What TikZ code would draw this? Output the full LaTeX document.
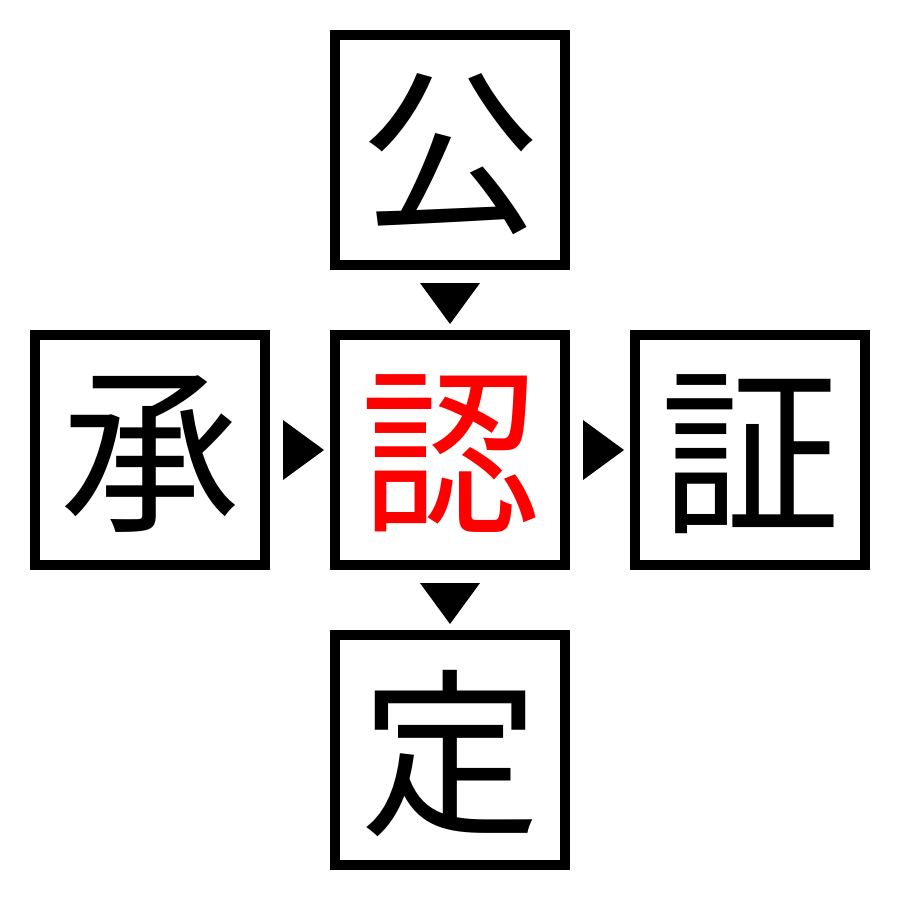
\documentclass[tikz,border=0pt]{standalone}
\usepackage{fontspec}
\newfontfamily\cjk{Noto Sans CJK JP}
\definecolor{kred}{RGB}{255,0,0}
\begin{document}
\begin{tikzpicture}[x=1pt,y=-1pt,
  kbox/.style={draw=black,line width=10pt,minimum size=230pt,inner sep=0pt},
  kchar/.style={inner sep=0pt,font=\cjk\fontsize{180pt}{180pt}\selectfont},
  tri/.style={fill=black,draw=none}]
\useasboundingbox (0,0) rectangle (900,900);
\node[kbox] (top) at (450,150) {};
\node[kbox] (left) at (150,450) {};
\node[kbox] (mid) at (450,450) {};
\node[kbox] (right) at (750,450) {};
\node[kbox] (bot) at (450,750) {};
\node[kchar] (ctop) at ([yshift=-4pt]top.center) {公};
\node[kchar] (cleft) at ([yshift=-4pt]left.center) {承};
\node[kchar,text=kred] (cmid) at ([yshift=-4pt]mid.center) {認};
\node[kchar] (cright) at ([yshift=-4pt]right.center) {証};
\node[kchar] (cbot) at ([yshift=-4pt]bot.center) {定};
\coordinate (t1) at (420,283); \coordinate (t2) at (480,283); \coordinate (t3) at (450,324);
\fill[tri] (t1) -- (t2) -- (t3) -- cycle;
\coordinate (l1) at (283,420); \coordinate (l2) at (283,480); \coordinate (l3) at (324,450);
\fill[tri] (l1) -- (l2) -- (l3) -- cycle;
\coordinate (r1) at (583,420); \coordinate (r2) at (583,480); \coordinate (r3) at (624,450);
\fill[tri] (r1) -- (r2) -- (r3) -- cycle;
\coordinate (b1) at (420,583); \coordinate (b2) at (480,583); \coordinate (b3) at (450,624);
\fill[tri] (b1) -- (b2) -- (b3) -- cycle;
\end{tikzpicture}
\end{document}
